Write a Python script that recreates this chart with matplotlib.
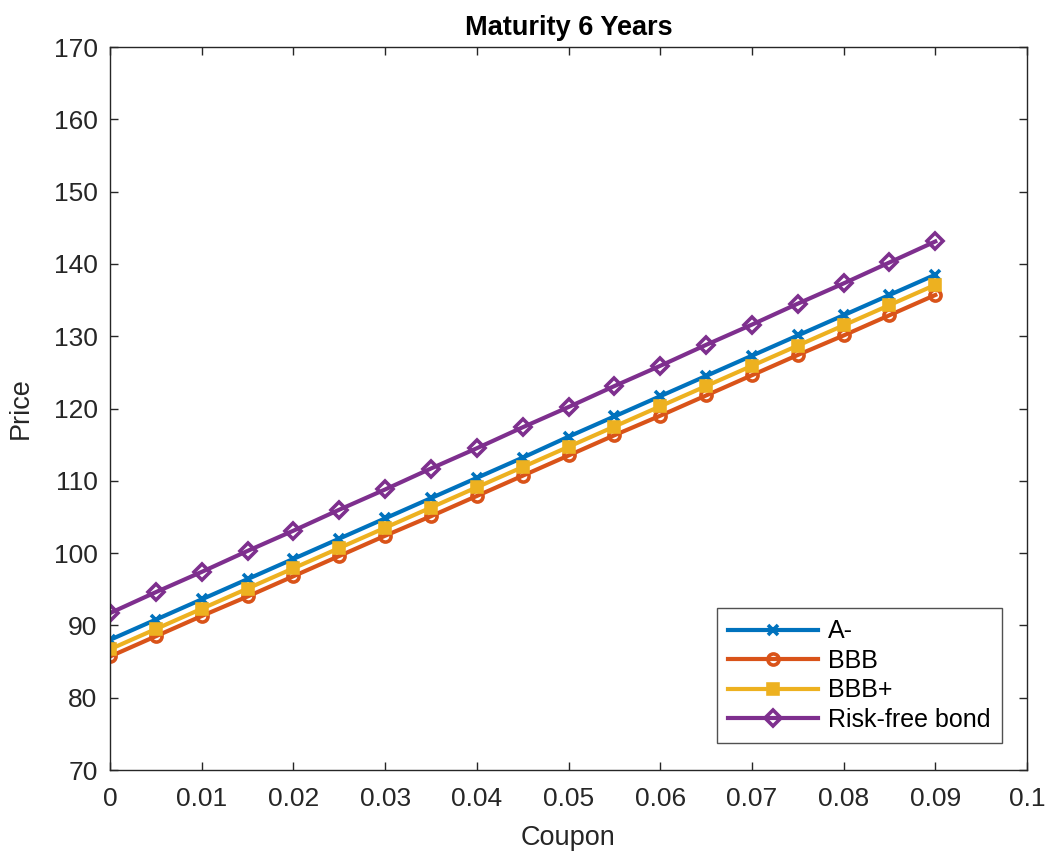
import matplotlib
matplotlib.use("Agg")
import matplotlib.pyplot as plt

plt.rcParams['font.family'] = ['Liberation Sans', 'DejaVu Sans']

coupon = [0, 0.005, 0.01, 0.015, 0.02, 0.025, 0.03, 0.035, 0.04, 0.045,
          0.05, 0.055, 0.06, 0.065, 0.07, 0.075, 0.08, 0.085, 0.09]
a_minus = [88.0, 90.8, 93.6, 96.4, 99.2, 102.0, 104.8, 107.6, 110.4, 113.2,
           116.1, 118.9, 121.7, 124.5, 127.3, 130.1, 132.9, 135.7, 138.5]
bbb = [85.7, 88.5, 91.3, 94.0, 96.8, 99.6, 102.4, 105.1, 107.9, 110.7,
       113.5, 116.3, 119.0, 121.8, 124.6, 127.4, 130.1, 132.9, 135.7]
bbb_plus = [86.7, 89.5, 92.3, 95.1, 97.9, 100.7, 103.5, 106.3, 109.1, 111.9,
            114.7, 117.5, 120.3, 123.1, 125.9, 128.7, 131.5, 134.3, 137.1]
risk_free = [91.7, 94.6, 97.4, 100.3, 103.1, 106.0, 108.8, 111.7, 114.5, 117.4,
             120.2, 123.1, 125.9, 128.8, 131.6, 134.5, 137.3, 140.2, 143.1]

labels = ['A-', 'BBB', 'BBB+', 'Risk-free bond']
colors = ['#0072BD', '#D95319', '#EDB120', '#7E2F8E']
xticks = [0, 0.01, 0.02, 0.03, 0.04, 0.05, 0.06, 0.07, 0.08, 0.09, 0.1]
xticklabels = ['0', '0.01', '0.02', '0.03', '0.04', '0.05', '0.06', '0.07', '0.08', '0.09', '0.1']
yticks = [70, 80, 90, 100, 110, 120, 130, 140, 150, 160, 170]

fig = plt.figure(figsize=(10.47, 8.52), dpi=100)
L, R, B, T = 110, 1027, 770, 47
ax = fig.add_axes([L / 1047, 1 - B / 852, (R - L) / 1047, (B - T) / 852])

ax.plot(coupon, a_minus, color=colors[0], lw=3.0, marker='x', ms=7.5, mew=2.6, label=labels[0])
ax.plot(coupon, bbb, color=colors[1], lw=3.0, marker='o', ms=8, mew=2.6, mfc='none', label=labels[1])
ax.plot(coupon, bbb_plus, color=colors[2], lw=3.0, marker='s', ms=7, mew=2.6, mfc=colors[2], label=labels[2])
ax.plot(coupon, risk_free, color=colors[3], lw=3.0, marker='D', ms=8, mew=2.6, mfc='none', label=labels[3])

ax.set_xlim(0, 0.1)
ax.set_ylim(70, 170)
ax.set_xticks(xticks)
ax.set_xticklabels(xticklabels)
ax.set_yticks(yticks)
ax.tick_params(direction='in', top=True, right=True, labelsize=19, length=6, width=1,
               colors='#262626')
ax.tick_params(axis='x', pad=12)
ax.tick_params(axis='y', pad=9)
for s in ax.spines.values():
    s.set_linewidth(1)
    s.set_color('#262626')

ax.set_title('Maturity 6 Years', fontsize=19.5, fontweight='bold', color='black', pad=9)
ax.set_xlabel('Coupon', fontsize=19.5, color='#262626', labelpad=10)
ax.set_ylabel('Price', fontsize=19.5, color='#262626', labelpad=14)

leg = ax.legend(loc='lower right', fontsize=18, frameon=True, fancybox=False,
                edgecolor='#262626', handlelength=3.6, borderpad=0.45,
                labelspacing=0.22, handletextpad=0.4,
                bbox_to_anchor=((1002 - L) / (R - L), (B - 743) / (B - T)),
                borderaxespad=0)
leg.get_frame().set_linewidth(1)

fig.savefig('out.png', dpi=100)
